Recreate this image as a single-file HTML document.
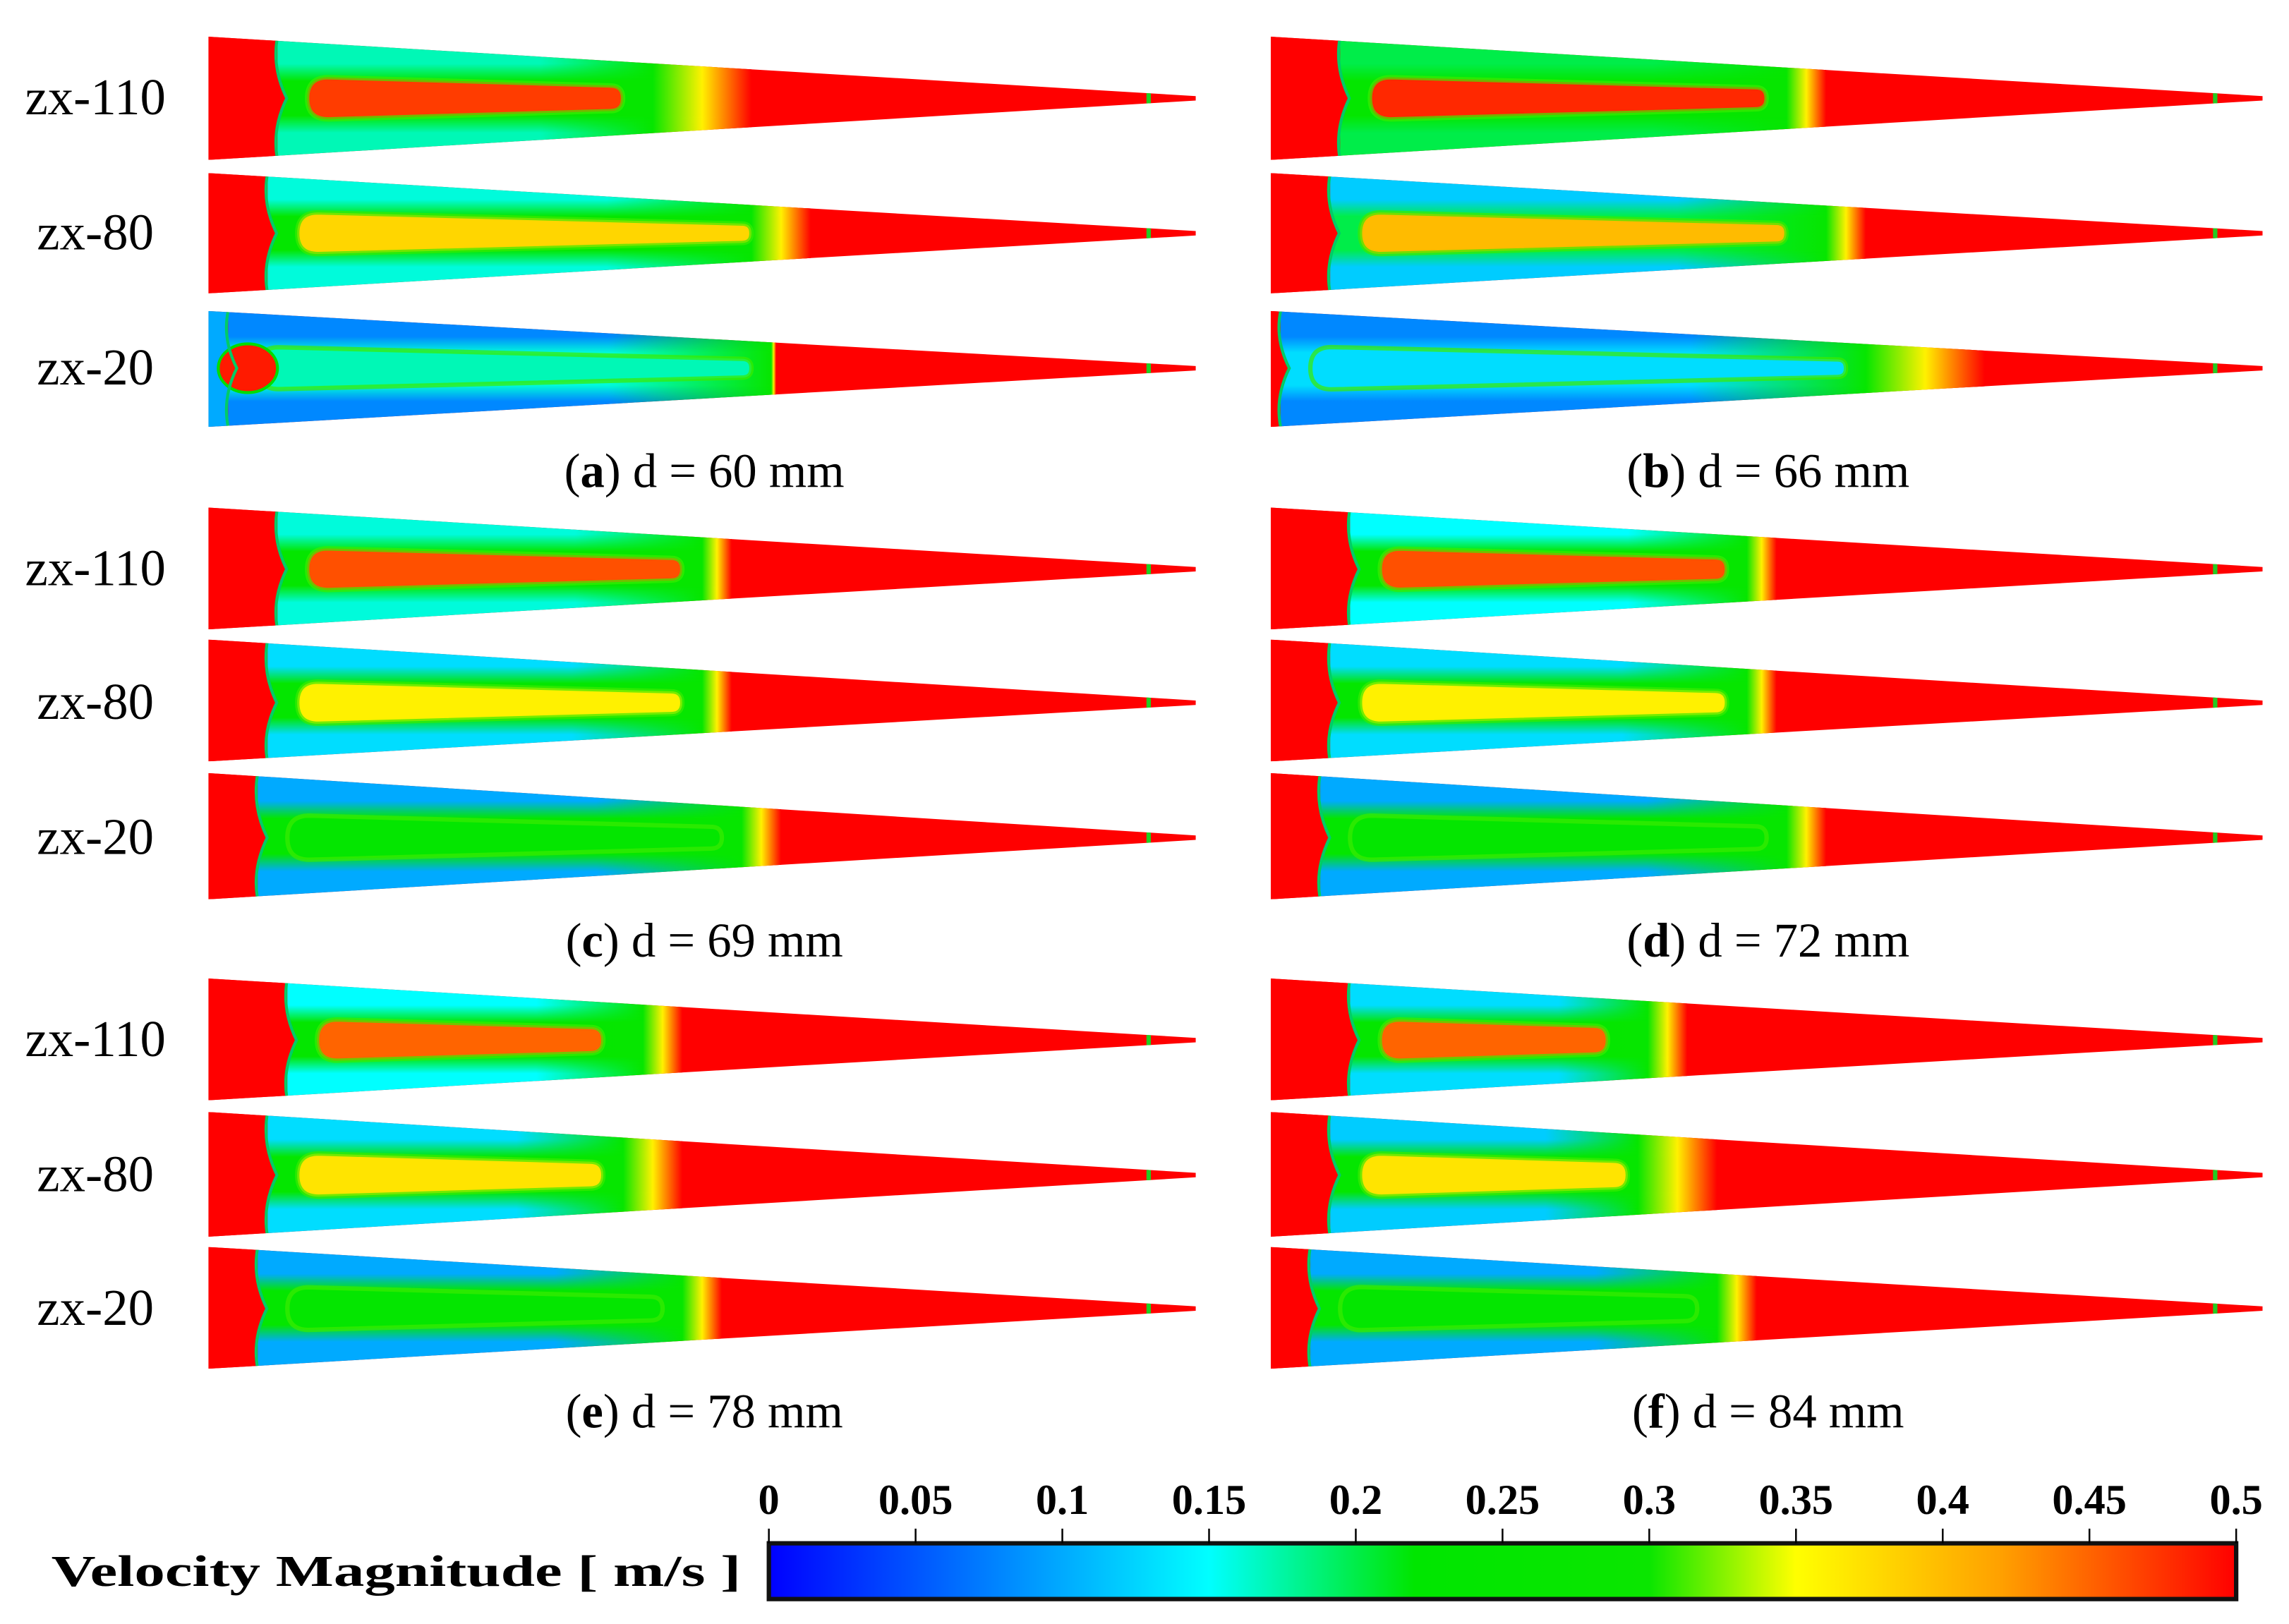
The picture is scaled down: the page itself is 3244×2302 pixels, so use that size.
<!DOCTYPE html>
<html><head><meta charset="utf-8"><style>
html,body{margin:0;padding:0;background:#fff;width:3244px;height:2302px;overflow:hidden}
svg{display:block}
</style></head><body>
<svg id="fig" width="3244" height="2302" viewBox="0 0 1560 1107" preserveAspectRatio="none" xmlns="http://www.w3.org/2000/svg">
<defs id="defs">
<linearGradient id="vband" x1="0" y1="0" x2="0" y2="1">
<stop offset="0" stop-color="#fff" stop-opacity="0"/>
<stop offset="0.22" stop-color="#fff" stop-opacity="0"/>
<stop offset="0.36" stop-color="#fff" stop-opacity="1"/>
<stop offset="0.64" stop-color="#fff" stop-opacity="1"/>
<stop offset="0.78" stop-color="#fff" stop-opacity="0"/>
<stop offset="1" stop-color="#fff" stop-opacity="0"/>
</linearGradient>
</defs>
<g id="panels"></g>
<g id="cbar"></g>
</svg>
<script>
// panel data: per row values
const panelLetters = ['a','b','c','d','e','f'];
const panelDiameters = [60,66,69,72,78,84];
const rowLabels = ['zx-110','zx-80','zx-20'];
const inletFrac = [[0.07,0.06,0.02],[0.07,0.06,0.01],[0.07,0.06,0.05],[0.08,0.06,0.05],[0.08,0.06,0.05],[0.08,0.06,0.04]];
const transFrac = [[0.45,0.55,0.57],[0.52,0.56,0.6],[0.5,0.5,0.54],[0.48,0.48,0.52],[0.44,0.42,0.48],[0.38,0.37,0.45]];
const outerVel = [[0.17,0.16,0.08],[0.2,0.12,0.08],[0.16,0.13,0.1],[0.15,0.13,0.1],[0.15,0.13,0.1],[0.13,0.12,0.1]];
const midVel = [[0.25,0.25,0.16],[0.25,0.2,0.13],[0.25,0.25,0.25],[0.25,0.25,0.25],[0.25,0.25,0.25],[0.25,0.25,0.25]];
const coreVel = [[0.47,0.38,0.17],[0.48,0.4,0.13],[0.46,0.36,0.25],[0.46,0.36,0.25],[0.45,0.37,0.25],[0.45,0.37,0.25]];
const coreEnd = [[0.42,0.55,0.55],[0.5,0.52,0.58],[0.48,0.48,0.52],[0.46,0.46,0.5],[0.4,0.4,0.46],[0.34,0.36,0.43]];
const inletVel = [[0.5,0.5,0.1],[0.5,0.5,0.5],[0.5,0.5,0.5],[0.5,0.5,0.5],[0.5,0.5,0.5],[0.5,0.5,0.5]];
const transWidth = [[0.1,0.06,0.005],[0.04,0.04,0.12],[0.03,0.03,0.04],[0.03,0.03,0.04],[0.04,0.06,0.04],[0.04,0.08,0.04]];
const tickLabels = ['0','0.05','0.1','0.15','0.2','0.25','0.3','0.35','0.4','0.45','0.5'];
const tickValues = [0,0.05,0.1,0.15,0.2,0.25,0.3,0.35,0.4,0.45,0.5];

const NS='http://www.w3.org/2000/svg';
const stops=[[0,[0,0,255]],[0.15,[0,255,255]],[0.22,[0,230,0]],[0.3,[10,230,0]],[0.35,[255,255,0]],[0.42,[255,160,0]],[0.5,[255,0,0]]];
function cmap(v){v=Math.max(0,Math.min(0.5,v));for(let i=1;i<stops.length;i++){if(v<=stops[i][0]){const a=stops[i-1],b=stops[i];const t=(v-a[0])/(b[0]-a[0]);const c=a[1].map((x,k)=>Math.round(x+(b[1][k]-x)*t));return `rgb(${c})`;}}return 'rgb(255,0,0)';}
function el(tag,attrs,parent){const e=document.createElementNS(NS,tag);for(const k in attrs)e.setAttribute(k,attrs[k]);parent.appendChild(e);return e;}
const defs=document.getElementById('defs'),panels=document.getElementById('panels');
const colX=[[142,815],[866,1542]];
const rowGeom=[[[25,109,67],[118,200,159],[212,291,251]],[[346,429,388],[436,519,479],[527,613,571]],[[667,750,709],[758,843,801],[850,933,892]]];
const capY=[322,642,963], capX=[480,1205];
let gid=0;
for(let p=0;p<6;p++){
  const col=p%2,row=Math.floor(p/2);
  const g=el('g',{},panels);
  
  
  const [x0,xt]=colX[col];const L=xt-x0;
  for(let r=0;r<3;r++){
    const [top,bot,ym]=rowGeom[row][r];
    const id='c'+(gid++);
    const cp=el('clipPath',{id:id},defs);
    el('polygon',{points:`${x0},${top} ${xt},${ym-1.5} ${xt},${ym+1.5} ${x0},${bot}`},cp);
    const w=el('g',{'clip-path':`url(#${id})`},g);
    
    
    el('rect',{x:x0,y:top,width:L,height:bot-top,fill:'#ff0000'},w);
    const xi=x0+inletFrac[p][r]*L, xtr=x0+transFrac[p][r]*L, tw=transWidth[p][r]*L;
    const tot=xtr+tw-xi;
    function hgrad(base,gidn){
      const lg=el('linearGradient',{id:gidn,gradientUnits:'userSpaceOnUse',x1:xi,y1:0,x2:xtr+tw,y2:0},defs);
      el('stop',{offset:0,'stop-color':base},lg);
      el('stop',{offset:Math.max(0,0.7*(xtr-xi)/tot),'stop-color':base},lg);
      el('stop',{offset:(xtr-xi)/tot,'stop-color':cmap(0.27)},lg);
      el('stop',{offset:Math.min(1,(xtr-xi+tw*0.5)/tot),'stop-color':cmap(0.36)},lg);
      el('stop',{offset:1,'stop-color':'#ff0000'},lg);
    }
    hgrad(cmap(outerVel[p][r]),'g'+id);
    hgrad(cmap(midVel[p][r]),'m'+id);
    el('rect',{x:xi,y:top,width:tot,height:bot-top,fill:`url(#g${id})`},w);
    const mk=el('mask',{id:'k'+id,maskContentUnits:'userSpaceOnUse'},defs);
    el('rect',{x:xi,y:top,width:tot,height:bot-top,fill:'url(#vband)'},mk);
    el('rect',{x:xi,y:top,width:tot,height:bot-top,fill:`url(#m${id})`,mask:`url(#k${id})`},w);
    // core band
    const xc=x0+coreEnd[p][r]*L;
    const hh0=(bot-top)/2, hhc=hh0*(1-(xc-x0)/L);
    const cs=xi+0.03*L;
    const h1=0.38*hh0*(1-(cs-x0)/L), h2=0.36*hhc;
    el('path',{d:`M${cs+h1},${ym-h1} L${xc-h2},${ym-h2} Q${xc},${ym-h2} ${xc},${ym} Q${xc},${ym+h2} ${xc-h2},${ym+h2} L${cs+h1},${ym+h1} Q${cs},${ym+h1} ${cs},${ym} Q${cs},${ym-h1} ${cs+h1},${ym-h1}Z`,fill:cmap(coreVel[p][r]),stroke:cmap(0.31),'stroke-width':3,'stroke-opacity':0.7},w);
    // inlet
    el('path',{d:`M${x0},${top} L${xi},${top} Q${xi-4},${ym-hh0*0.5} ${xi+hh0*0.15},${ym} Q${xi-4},${ym+hh0*0.5} ${xi},${bot} L${x0},${bot}Z`,fill:cmap(inletVel[p][r])},w);
    if(inletVel[p][r]<0.3){el('ellipse',{cx:x0+0.04*L,cy:ym,rx:0.03*L,ry:hh0*0.42,fill:'#ff1a00',stroke:'#00dd00','stroke-width':2},w);}
    el('path',{d:`M${xi},${top} Q${xi-4},${ym-hh0*0.5} ${xi+hh0*0.15},${ym} Q${xi-4},${ym+hh0*0.5} ${xi},${bot}`,fill:'none',stroke:'#00cc66','stroke-width':2},w);
    el('rect',{x:xt-0.05*L,y:ym-6,width:3,height:12,fill:'#22cc22'},w);
    if(col===0){
      const t=el('text',{x:65,y:ym+11,'text-anchor':'middle','font-family':'Liberation Serif, serif','font-size':35},g);
      t.textContent=rowLabels[r];
      
      
    }
  }
  const c=el('text',{x:capX[col],y:capY[row]+10,'text-anchor':'middle','font-family':'Liberation Serif, serif','font-size':33},g);
  c.innerHTML=`(<tspan font-weight="bold">${panelLetters[p]}</tspan>) d = ${panelDiameters[p]} mm`;
  
  
}
// colorbar
const cb=document.getElementById('cbar');
const bx0=524,bx1=1524,by0=1052,by1=1090;
const cg=el('linearGradient',{id:'cbg',x1:0,y1:0,x2:1,y2:0},defs);
stops.forEach(s=>el('stop',{offset:s[0]/0.5,'stop-color':`rgb(${s[1]})`},cg));
el('rect',{x:bx0,y:by0,width:bx1-bx0,height:by1-by0,fill:'url(#cbg)',stroke:'#111','stroke-width':3},cb);
const xs=v=>bx0+(bx1-bx0)*v/0.5;
tickValues.forEach((v,i)=>{
  el('line',{x1:xs(v),y1:by0-10,x2:xs(v),y2:by0,stroke:'#000','stroke-width':1.2},cb);
  const t=el('text',{x:xs(v),y:1032,'text-anchor':'middle','font-family':'Liberation Serif, serif','font-weight':'bold','font-size':29},cb);
  t.textContent=tickLabels[i];
  
  
});
const ct=el('text',{x:35,y:1081,'font-family':'Liberation Serif, serif','font-weight':'bold','font-size':30,'textLength':470,'lengthAdjust':'spacingAndGlyphs'},cb);
ct.textContent='Velocity Magnitude [ m/s ]';


</script>
</body></html>
